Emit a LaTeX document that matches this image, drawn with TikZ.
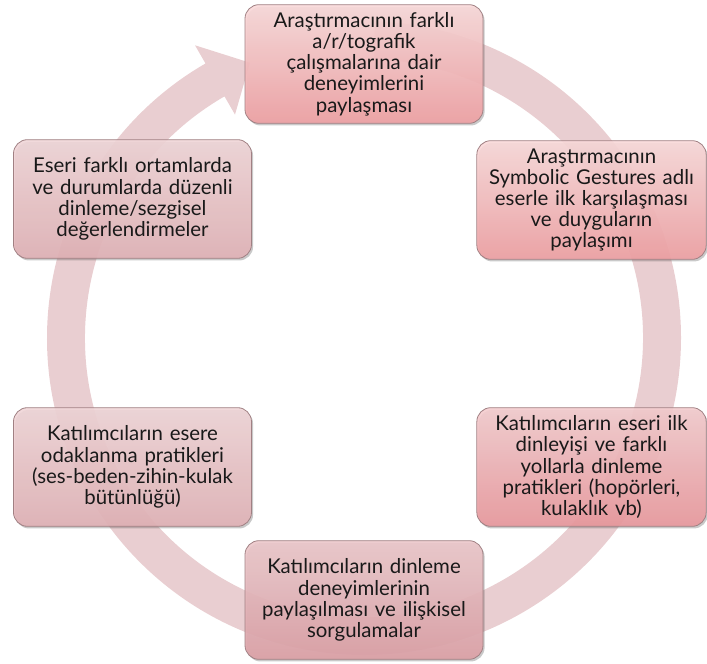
\documentclass[tikz,border=0pt]{standalone}
\usepackage{fontspec}
\setmainfont{Lato}
\usetikzlibrary{shadows}
\definecolor{ringc}{RGB}{233,206,209}
\definecolor{edgec}{RGB}{160,128,131}
\definecolor{t1}{RGB}{249,218,218}\definecolor{b1}{RGB}{240,160,163}
\definecolor{t2}{RGB}{240,214,216}\definecolor{b2}{RGB}{226,178,182}
\definecolor{t3}{RGB}{236,200,203}\definecolor{b3}{RGB}{220,160,166}
\definecolor{t4}{RGB}{244,205,207}\definecolor{b4}{RGB}{234,152,157}
\tikzset{
  box/.style={rounded corners=10.5pt, draw=edgec, line width=0.6pt, align=center,
    inner sep=1pt, font=\fontsize{15.3pt}{15.9pt}\selectfont, text=black!90,
    fill opacity=0.9, text opacity=1,
    drop shadow={shadow xshift=1.2pt, shadow yshift=-1.6pt, opacity=0.3, fill=black!70}},
  bigbox/.style={box, minimum width=178.5pt, text width=176pt, minimum height=89pt},
}
\begin{document}
\begin{tikzpicture}[x=0.75pt,y=-0.75pt]
\useasboundingbox (0,0) rectangle (707,664);
\begin{scope}[shift={(364,338)}, x=0.75pt, y=0.75pt]
  \fill[ringc] (88:317) arc[start angle=88, end angle=-240, radius=317]
    -- (-240:338) -- (-247.5:298) -- (-240:258) -- (-240:279)
    arc[start angle=-240, end angle=88, radius=279] -- cycle;
\end{scope}
\node[bigbox, top color=t1, bottom color=b1] (n1) at (364,64)
  {Araştırmacının farklı\\a/r/tografik\\çalışmalarına dair\\deneyimlerini\\paylaşması};
\node[bigbox, top color=t1, bottom color=b1, minimum width=172pt, text width=170pt] (n2) at (591.5,200)
  {Araştırmacının\\Symbolic Gestures adlı\\eserle ilk karşılaşması\\ve duyguların\\paylaşımı};
\node[bigbox, top color=t4, bottom color=b4, minimum width=172pt, text width=170pt] (n3) at (591.5,467)
  {Katılımcıların eseri ilk\\dinleyişi ve farklı\\yollarla dinleme\\pratikleri (hopörleri,\\kulaklık vb)};
\node[bigbox, top color=t3, bottom color=b3] (n4) at (364,600)
  {Katılımcıların dinleme\\deneyimlerinin\\paylaşılması ve ilişkisel\\sorgulamalar};
\node[bigbox, top color=t2, bottom color=b2] (n5) at (132.5,467)
  {Katılımcıların esere\\odaklanma pratikleri\\(ses-beden-zihin-kulak\\bütünlüğü)};
\node[bigbox, top color=t2, bottom color=b2] (n6) at (132.5,199)
  {Eseri farklı ortamlarda\\ve durumlarda düzenli\\dinleme/sezgisel\\değerlendirmeler};
\end{tikzpicture}
\end{document}
